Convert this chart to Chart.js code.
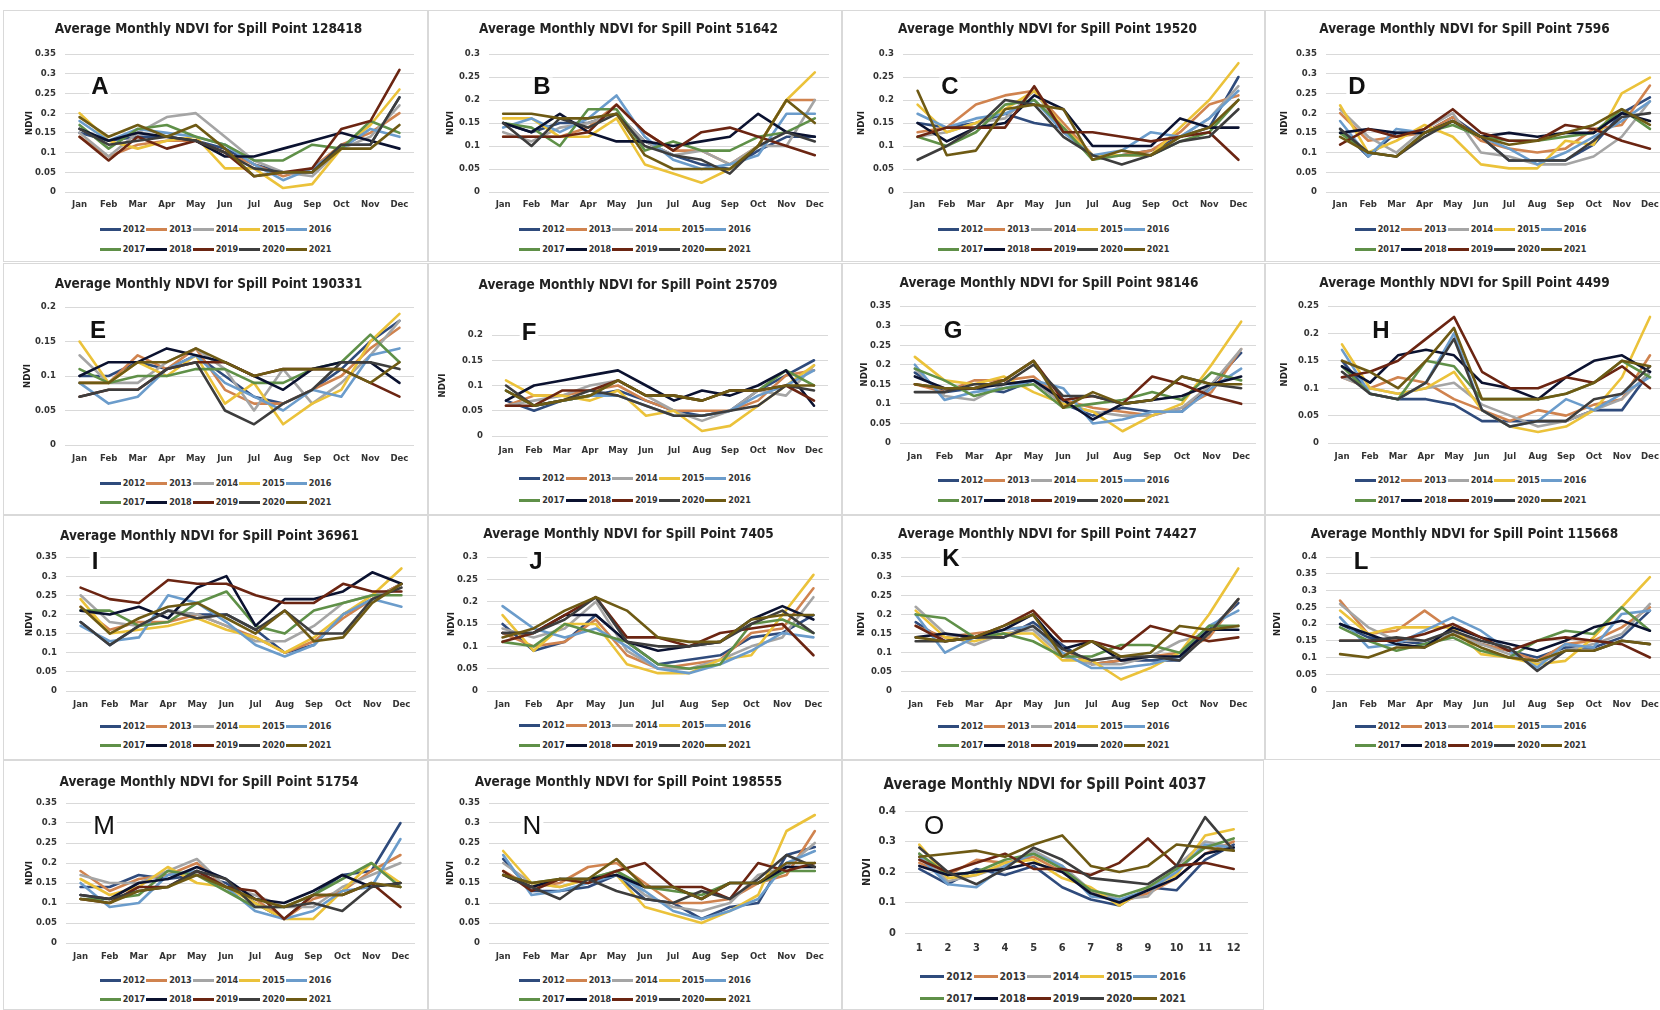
<!DOCTYPE html>
<html>
<head>
<meta charset="utf-8">
<script src="https://cdn.jsdelivr.net/npm/chart.js@4.4.1/dist/chart.umd.min.js"></script>
<style>
  html, body { margin: 0; padding: 0; background: #fff; width: 1660px; height: 1010px; overflow: hidden; position: relative; }
  .frame { position: absolute; border: 1px solid #d9d9d9; box-sizing: border-box; }
  .chartbox { position: absolute; }
  .legend { position: absolute; display: grid; grid-template-columns: repeat(5, auto); justify-content: center; column-gap: 1px; font-weight: bold; color: #333; }
  .legend .item { display: flex; align-items: center; white-space: nowrap; }
  .legend .swatch { display: inline-block; height: 3px; margin-right: 2px; }
</style>
</head>
<body>
<script>
const FONT = "'Liberation Sans Narrow', 'DejaVu Sans Condensed', 'Liberation Sans', sans-serif";

const years = ['2012', '2013', '2014', '2015', '2016', '2017', '2018', '2019', '2020', '2021'];
const months = ['Jan', 'Feb', 'Mar', 'Apr', 'May', 'Jun', 'Jul', 'Aug', 'Sep', 'Oct', 'Nov', 'Dec'];
const monthsJ = ['Jan', 'Feb', 'Apr', 'May', 'Jun', 'Jul', 'Aug', 'Sep', 'Oct', 'Nov', 'Dec'];
const monthNums = ['1', '2', '3', '4', '5', '6', '7', '8', '9', '10', '11', '12'];
const spillPoints = ['128418', '51642', '19520', '7596', '190331', '25709', '98146', '4499',
  '36961', '7405', '74427', '115668', '51754', '198555', '4037'];
const panelLetters = ['A', 'B', 'C', 'D', 'E', 'F', 'G', 'H', 'I', 'J', 'K', 'L', 'M', 'N', 'O'];
const yMax = [0.35, 0.3, 0.3, 0.35, 0.2, 0.2, 0.35, 0.25, 0.35, 0.3, 0.35, 0.4, 0.35, 0.35, 0.4];
const yStep = [0.05, 0.05, 0.05, 0.05, 0.05, 0.05, 0.05, 0.05, 0.05, 0.05, 0.05, 0.05, 0.05, 0.05, 0.1];

// rows are 2012 ... 2021
const ndviA = [
  [0.15, 0.13, 0.14, 0.14, 0.13, 0.11, 0.07, 0.05, 0.05, 0.12, 0.12, 0.24],
  [0.14, 0.09, 0.12, 0.13, 0.13, 0.10, 0.07, 0.04, 0.06, 0.12, 0.15, 0.20],
  [0.15, 0.09, 0.15, 0.19, 0.20, 0.14, 0.08, 0.05, 0.04, 0.11, 0.14, 0.22],
  [0.20, 0.13, 0.11, 0.13, 0.14, 0.06, 0.06, 0.01, 0.02, 0.11, 0.17, 0.26],
  [0.18, 0.13, 0.16, 0.15, 0.14, 0.12, 0.07, 0.03, 0.06, 0.11, 0.16, 0.14],
  [0.17, 0.11, 0.16, 0.17, 0.14, 0.12, 0.08, 0.08, 0.12, 0.11, 0.18, 0.15],
  [0.16, 0.13, 0.15, 0.14, 0.13, 0.09, 0.09, 0.11, 0.13, 0.15, 0.13, 0.11],
  [0.14, 0.08, 0.14, 0.11, 0.13, 0.10, 0.04, 0.05, 0.06, 0.16, 0.18, 0.31],
  [0.16, 0.12, 0.13, 0.14, 0.13, 0.10, 0.06, 0.05, 0.05, 0.12, 0.12, 0.24],
  [0.19, 0.14, 0.17, 0.14, 0.17, 0.11, 0.04, 0.05, 0.05, 0.11, 0.11, 0.17]
];
const ndviB = [
  [0.15, 0.13, 0.15, 0.15, 0.17, 0.11, 0.08, 0.06, 0.05, 0.09, 0.12, 0.12],
  [0.12, 0.12, 0.12, 0.14, 0.19, 0.13, 0.09, 0.09, 0.06, 0.10, 0.20, 0.20],
  [0.13, 0.11, 0.14, 0.15, 0.17, 0.11, 0.08, 0.09, 0.06, 0.10, 0.10, 0.20],
  [0.16, 0.16, 0.12, 0.12, 0.16, 0.06, 0.04, 0.02, 0.05, 0.10, 0.20, 0.26],
  [0.14, 0.16, 0.13, 0.16, 0.21, 0.12, 0.07, 0.05, 0.06, 0.08, 0.17, 0.17],
  [0.15, 0.14, 0.10, 0.18, 0.18, 0.09, 0.11, 0.09, 0.09, 0.12, 0.13, 0.16],
  [0.15, 0.13, 0.17, 0.13, 0.11, 0.11, 0.10, 0.11, 0.12, 0.17, 0.13, 0.12],
  [0.12, 0.12, 0.12, 0.13, 0.19, 0.13, 0.09, 0.13, 0.14, 0.12, 0.10, 0.08],
  [0.15, 0.10, 0.16, 0.14, 0.17, 0.10, 0.08, 0.07, 0.04, 0.10, 0.13, 0.11],
  [0.17, 0.17, 0.16, 0.16, 0.17, 0.08, 0.05, 0.05, 0.05, 0.10, 0.20, 0.15]
];
const ndviC = [
  [0.15, 0.14, 0.15, 0.17, 0.15, 0.14, 0.08, 0.08, 0.09, 0.12, 0.14, 0.25],
  [0.13, 0.14, 0.19, 0.21, 0.22, 0.15, 0.08, 0.08, 0.09, 0.13, 0.19, 0.21],
  [0.12, 0.13, 0.15, 0.16, 0.22, 0.13, 0.08, 0.08, 0.08, 0.12, 0.16, 0.23],
  [0.19, 0.13, 0.15, 0.18, 0.22, 0.14, 0.08, 0.08, 0.08, 0.14, 0.20, 0.28],
  [0.17, 0.14, 0.16, 0.17, 0.20, 0.13, 0.08, 0.09, 0.13, 0.12, 0.16, 0.22],
  [0.12, 0.10, 0.13, 0.19, 0.20, 0.14, 0.07, 0.08, 0.08, 0.11, 0.13, 0.20],
  [0.15, 0.11, 0.14, 0.15, 0.21, 0.18, 0.10, 0.10, 0.10, 0.16, 0.14, 0.14],
  [0.12, 0.14, 0.14, 0.14, 0.23, 0.13, 0.13, 0.12, 0.11, 0.12, 0.13, 0.07],
  [0.07, 0.10, 0.14, 0.20, 0.19, 0.12, 0.08, 0.06, 0.08, 0.11, 0.12, 0.18],
  [0.22, 0.08, 0.09, 0.18, 0.19, 0.18, 0.07, 0.09, 0.08, 0.12, 0.14, 0.20]
];
const ndviD = [
  [0.16, 0.09, 0.15, 0.15, 0.19, 0.14, 0.08, 0.08, 0.08, 0.12, 0.20, 0.24],
  [0.20, 0.13, 0.14, 0.15, 0.19, 0.13, 0.11, 0.10, 0.11, 0.16, 0.17, 0.27],
  [0.21, 0.14, 0.10, 0.16, 0.20, 0.10, 0.09, 0.07, 0.07, 0.09, 0.14, 0.23],
  [0.22, 0.10, 0.13, 0.17, 0.14, 0.07, 0.06, 0.06, 0.13, 0.12, 0.25, 0.29],
  [0.18, 0.09, 0.16, 0.15, 0.18, 0.14, 0.11, 0.07, 0.10, 0.14, 0.18, 0.23],
  [0.15, 0.10, 0.09, 0.15, 0.17, 0.14, 0.13, 0.13, 0.14, 0.15, 0.21, 0.16],
  [0.15, 0.16, 0.15, 0.15, 0.18, 0.14, 0.15, 0.14, 0.15, 0.15, 0.20, 0.18],
  [0.12, 0.16, 0.14, 0.16, 0.21, 0.15, 0.13, 0.13, 0.17, 0.16, 0.13, 0.11],
  [0.16, 0.10, 0.09, 0.14, 0.18, 0.14, 0.08, 0.08, 0.08, 0.13, 0.19, 0.20],
  [0.14, 0.10, 0.09, 0.15, 0.18, 0.14, 0.12, 0.13, 0.15, 0.17, 0.21, 0.17]
];
const ndviE = [
  [0.10, 0.10, 0.12, 0.11, 0.13, 0.10, 0.07, 0.06, 0.08, 0.11, 0.15, 0.18],
  [0.09, 0.09, 0.13, 0.11, 0.14, 0.08, 0.06, 0.06, 0.08, 0.10, 0.14, 0.17],
  [0.13, 0.09, 0.09, 0.12, 0.14, 0.11, 0.05, 0.11, 0.06, 0.09, 0.13, 0.18],
  [0.15, 0.09, 0.12, 0.10, 0.13, 0.06, 0.09, 0.03, 0.06, 0.08, 0.15, 0.19],
  [0.09, 0.06, 0.07, 0.11, 0.13, 0.09, 0.07, 0.05, 0.08, 0.07, 0.13, 0.14],
  [0.11, 0.09, 0.10, 0.10, 0.11, 0.11, 0.09, 0.09, 0.11, 0.12, 0.16, 0.12],
  [0.10, 0.12, 0.12, 0.14, 0.13, 0.12, 0.10, 0.08, 0.11, 0.12, 0.12, 0.09],
  [0.07, 0.08, 0.08, 0.11, 0.12, 0.12, 0.10, 0.11, 0.11, 0.11, 0.09, 0.07],
  [0.07, 0.08, 0.08, 0.11, 0.12, 0.05, 0.03, 0.06, 0.08, 0.12, 0.12, 0.11],
  [0.09, 0.09, 0.12, 0.12, 0.14, 0.12, 0.10, 0.11, 0.11, 0.11, 0.09, 0.12]
];
const ndviF = [
  [0.07, 0.05, 0.07, 0.08, 0.09, 0.07, 0.05, 0.04, 0.05, 0.09, 0.12, 0.15],
  [0.06, 0.08, 0.08, 0.09, 0.10, 0.07, 0.05, 0.05, 0.05, 0.07, 0.12, 0.13],
  [0.06, 0.07, 0.08, 0.10, 0.11, 0.08, 0.05, 0.03, 0.05, 0.09, 0.08, 0.14],
  [0.11, 0.08, 0.08, 0.07, 0.09, 0.04, 0.05, 0.01, 0.02, 0.06, 0.10, 0.14],
  [0.09, 0.06, 0.07, 0.08, 0.08, 0.06, 0.04, 0.04, 0.05, 0.08, 0.10, 0.13],
  [0.09, 0.06, 0.07, 0.08, 0.11, 0.08, 0.08, 0.07, 0.09, 0.09, 0.13, 0.10],
  [0.07, 0.10, 0.11, 0.12, 0.13, 0.10, 0.07, 0.09, 0.08, 0.10, 0.13, 0.06],
  [0.06, 0.06, 0.09, 0.09, 0.11, 0.08, 0.08, 0.07, 0.09, 0.09, 0.10, 0.07],
  [0.10, 0.06, 0.07, 0.09, 0.08, 0.06, 0.04, 0.04, 0.05, 0.06, 0.10, 0.09],
  [0.09, 0.06, 0.07, 0.08, 0.11, 0.08, 0.08, 0.07, 0.09, 0.09, 0.10, 0.10]
];
const ndviG = [
  [0.18, 0.13, 0.14, 0.13, 0.16, 0.10, 0.07, 0.09, 0.08, 0.08, 0.15, 0.23],
  [0.15, 0.13, 0.16, 0.16, 0.17, 0.11, 0.09, 0.08, 0.07, 0.09, 0.13, 0.24],
  [0.19, 0.12, 0.11, 0.15, 0.16, 0.10, 0.08, 0.07, 0.07, 0.09, 0.15, 0.24],
  [0.22, 0.16, 0.15, 0.17, 0.13, 0.10, 0.08, 0.03, 0.07, 0.10, 0.20, 0.31],
  [0.20, 0.11, 0.13, 0.14, 0.16, 0.14, 0.05, 0.06, 0.08, 0.08, 0.14, 0.19],
  [0.19, 0.16, 0.12, 0.14, 0.15, 0.09, 0.10, 0.11, 0.13, 0.11, 0.18, 0.16],
  [0.17, 0.14, 0.14, 0.15, 0.16, 0.11, 0.06, 0.10, 0.11, 0.12, 0.15, 0.17],
  [0.15, 0.14, 0.14, 0.16, 0.21, 0.11, 0.12, 0.10, 0.17, 0.15, 0.12, 0.10],
  [0.13, 0.13, 0.15, 0.15, 0.20, 0.12, 0.12, 0.10, 0.11, 0.17, 0.15, 0.14],
  [0.15, 0.14, 0.14, 0.16, 0.21, 0.09, 0.13, 0.10, 0.11, 0.17, 0.15, 0.15]
];
const ndviH = [
  [0.15, 0.09, 0.08, 0.08, 0.07, 0.04, 0.04, 0.04, 0.04, 0.06, 0.06, 0.13],
  [0.12, 0.10, 0.12, 0.11, 0.08, 0.06, 0.04, 0.06, 0.05, 0.07, 0.08, 0.16],
  [0.12, 0.10, 0.09, 0.10, 0.11, 0.07, 0.05, 0.03, 0.04, 0.06, 0.08, 0.13],
  [0.18, 0.10, 0.09, 0.10, 0.13, 0.06, 0.03, 0.02, 0.03, 0.06, 0.12, 0.23],
  [0.17, 0.09, 0.08, 0.11, 0.20, 0.06, 0.03, 0.04, 0.08, 0.06, 0.09, 0.12],
  [0.14, 0.09, 0.08, 0.15, 0.14, 0.08, 0.08, 0.08, 0.09, 0.11, 0.15, 0.12],
  [0.14, 0.11, 0.16, 0.17, 0.16, 0.11, 0.10, 0.08, 0.12, 0.15, 0.16, 0.13],
  [0.12, 0.13, 0.15, 0.19, 0.23, 0.13, 0.10, 0.10, 0.12, 0.11, 0.14, 0.10],
  [0.13, 0.09, 0.08, 0.11, 0.19, 0.06, 0.03, 0.04, 0.04, 0.08, 0.09, 0.14],
  [0.15, 0.13, 0.10, 0.15, 0.21, 0.08, 0.08, 0.08, 0.09, 0.11, 0.15, 0.14]
];
const ndviI = [
  [0.18, 0.12, 0.17, 0.21, 0.20, 0.20, 0.16, 0.10, 0.12, 0.20, 0.24, 0.28],
  [0.22, 0.16, 0.18, 0.18, 0.20, 0.17, 0.14, 0.10, 0.13, 0.19, 0.24, 0.28],
  [0.25, 0.18, 0.17, 0.21, 0.20, 0.17, 0.13, 0.13, 0.17, 0.23, 0.25, 0.27],
  [0.24, 0.15, 0.16, 0.17, 0.19, 0.16, 0.14, 0.10, 0.14, 0.20, 0.25, 0.32],
  [0.17, 0.13, 0.14, 0.25, 0.23, 0.18, 0.12, 0.09, 0.12, 0.20, 0.24, 0.22],
  [0.21, 0.21, 0.17, 0.18, 0.23, 0.26, 0.17, 0.15, 0.21, 0.23, 0.25, 0.25],
  [0.21, 0.20, 0.22, 0.19, 0.27, 0.30, 0.17, 0.24, 0.24, 0.26, 0.31, 0.28],
  [0.27, 0.24, 0.23, 0.29, 0.28, 0.28, 0.25, 0.23, 0.23, 0.28, 0.26, 0.26],
  [0.18, 0.12, 0.17, 0.21, 0.19, 0.20, 0.16, 0.21, 0.15, 0.15, 0.24, 0.27],
  [0.22, 0.15, 0.19, 0.22, 0.23, 0.19, 0.15, 0.21, 0.13, 0.14, 0.23, 0.28]
];
// J has no March column
const ndviJ = [
  [0.15, 0.09, 0.11, 0.17, 0.11, 0.06, 0.07, 0.08, 0.12, 0.13, 0.17],
  [0.13, 0.10, 0.11, 0.16, 0.08, 0.05, 0.06, 0.07, 0.13, 0.14, 0.23],
  [0.14, 0.12, 0.14, 0.20, 0.09, 0.05, 0.05, 0.07, 0.10, 0.12, 0.21],
  [0.17, 0.09, 0.15, 0.15, 0.06, 0.04, 0.04, 0.07, 0.08, 0.17, 0.26],
  [0.19, 0.14, 0.12, 0.14, 0.10, 0.05, 0.04, 0.06, 0.09, 0.13, 0.12],
  [0.11, 0.10, 0.15, 0.13, 0.11, 0.06, 0.05, 0.06, 0.15, 0.16, 0.13],
  [0.13, 0.13, 0.17, 0.17, 0.11, 0.09, 0.10, 0.11, 0.16, 0.19, 0.16],
  [0.11, 0.13, 0.17, 0.21, 0.12, 0.12, 0.10, 0.13, 0.14, 0.15, 0.08],
  [0.13, 0.13, 0.16, 0.21, 0.11, 0.10, 0.10, 0.11, 0.15, 0.18, 0.13],
  [0.12, 0.14, 0.18, 0.21, 0.18, 0.12, 0.11, 0.11, 0.16, 0.17, 0.17]
];
const ndviK = [
  [0.18, 0.13, 0.14, 0.14, 0.18, 0.12, 0.07, 0.08, 0.08, 0.08, 0.16, 0.23],
  [0.17, 0.14, 0.15, 0.16, 0.17, 0.11, 0.07, 0.08, 0.09, 0.10, 0.14, 0.24],
  [0.22, 0.15, 0.12, 0.15, 0.16, 0.09, 0.07, 0.07, 0.09, 0.13, 0.15, 0.24],
  [0.21, 0.14, 0.13, 0.15, 0.15, 0.08, 0.08, 0.03, 0.06, 0.10, 0.20, 0.32],
  [0.20, 0.10, 0.14, 0.16, 0.17, 0.10, 0.06, 0.06, 0.07, 0.09, 0.17, 0.21],
  [0.20, 0.19, 0.14, 0.15, 0.13, 0.09, 0.09, 0.12, 0.12, 0.10, 0.17, 0.17],
  [0.14, 0.15, 0.14, 0.16, 0.20, 0.11, 0.13, 0.08, 0.09, 0.09, 0.16, 0.16],
  [0.17, 0.13, 0.14, 0.17, 0.21, 0.13, 0.13, 0.11, 0.17, 0.15, 0.13, 0.14],
  [0.13, 0.13, 0.14, 0.14, 0.17, 0.11, 0.08, 0.09, 0.09, 0.08, 0.15, 0.24],
  [0.14, 0.13, 0.14, 0.17, 0.20, 0.09, 0.13, 0.09, 0.10, 0.17, 0.16, 0.17]
];
const ndviL = [
  [0.20, 0.16, 0.15, 0.14, 0.18, 0.14, 0.12, 0.10, 0.13, 0.13, 0.16, 0.24],
  [0.27, 0.17, 0.18, 0.24, 0.18, 0.14, 0.12, 0.09, 0.14, 0.15, 0.19, 0.25],
  [0.26, 0.19, 0.15, 0.15, 0.17, 0.14, 0.11, 0.08, 0.12, 0.14, 0.17, 0.26],
  [0.24, 0.17, 0.19, 0.19, 0.19, 0.11, 0.10, 0.08, 0.09, 0.16, 0.25, 0.34],
  [0.22, 0.13, 0.14, 0.18, 0.22, 0.18, 0.12, 0.07, 0.14, 0.13, 0.23, 0.24],
  [0.19, 0.15, 0.12, 0.14, 0.16, 0.12, 0.10, 0.15, 0.18, 0.17, 0.25, 0.18],
  [0.20, 0.17, 0.14, 0.13, 0.19, 0.16, 0.14, 0.12, 0.15, 0.19, 0.21, 0.18],
  [0.15, 0.15, 0.15, 0.17, 0.20, 0.16, 0.12, 0.15, 0.16, 0.15, 0.14, 0.10],
  [0.15, 0.15, 0.16, 0.15, 0.18, 0.15, 0.13, 0.06, 0.12, 0.12, 0.15, 0.14],
  [0.11, 0.10, 0.13, 0.13, 0.17, 0.13, 0.10, 0.09, 0.12, 0.12, 0.15, 0.14]
];
const ndviM = [
  [0.14, 0.14, 0.17, 0.16, 0.17, 0.15, 0.10, 0.06, 0.12, 0.17, 0.18, 0.30],
  [0.18, 0.13, 0.16, 0.17, 0.20, 0.14, 0.11, 0.06, 0.11, 0.13, 0.18, 0.22],
  [0.17, 0.15, 0.15, 0.18, 0.21, 0.14, 0.12, 0.09, 0.09, 0.14, 0.17, 0.20],
  [0.16, 0.12, 0.14, 0.19, 0.15, 0.14, 0.10, 0.06, 0.06, 0.13, 0.20, 0.15],
  [0.15, 0.09, 0.10, 0.17, 0.18, 0.14, 0.08, 0.06, 0.08, 0.13, 0.14, 0.26],
  [0.11, 0.11, 0.12, 0.18, 0.17, 0.13, 0.09, 0.09, 0.12, 0.16, 0.20, 0.14],
  [0.12, 0.11, 0.15, 0.16, 0.19, 0.16, 0.11, 0.10, 0.13, 0.17, 0.14, 0.15],
  [0.11, 0.10, 0.14, 0.14, 0.18, 0.14, 0.13, 0.06, 0.12, 0.12, 0.15, 0.09],
  [0.12, 0.11, 0.13, 0.14, 0.18, 0.16, 0.09, 0.09, 0.10, 0.08, 0.14, 0.15],
  [0.11, 0.10, 0.13, 0.14, 0.17, 0.14, 0.11, 0.09, 0.12, 0.12, 0.15, 0.14]
];
const ndviN = [
  [0.21, 0.13, 0.13, 0.14, 0.17, 0.11, 0.10, 0.06, 0.09, 0.10, 0.22, 0.24],
  [0.18, 0.14, 0.15, 0.19, 0.20, 0.15, 0.10, 0.10, 0.11, 0.15, 0.17, 0.28],
  [0.20, 0.15, 0.14, 0.16, 0.18, 0.12, 0.09, 0.08, 0.10, 0.17, 0.19, 0.25],
  [0.23, 0.15, 0.14, 0.16, 0.17, 0.09, 0.07, 0.05, 0.08, 0.12, 0.28, 0.32],
  [0.22, 0.12, 0.13, 0.15, 0.17, 0.13, 0.08, 0.06, 0.08, 0.11, 0.20, 0.23],
  [0.17, 0.15, 0.16, 0.16, 0.18, 0.14, 0.13, 0.12, 0.15, 0.15, 0.18, 0.18],
  [0.17, 0.14, 0.16, 0.16, 0.17, 0.14, 0.14, 0.11, 0.15, 0.15, 0.19, 0.19],
  [0.18, 0.13, 0.16, 0.15, 0.18, 0.20, 0.14, 0.14, 0.11, 0.20, 0.18, 0.20],
  [0.17, 0.14, 0.11, 0.16, 0.13, 0.11, 0.10, 0.13, 0.11, 0.16, 0.22, 0.19],
  [0.17, 0.15, 0.16, 0.16, 0.21, 0.14, 0.14, 0.11, 0.15, 0.15, 0.20, 0.20]
];
const ndviO = [
  [0.21, 0.16, 0.21, 0.19, 0.22, 0.15, 0.11, 0.09, 0.15, 0.14, 0.24, 0.29],
  [0.23, 0.19, 0.24, 0.23, 0.25, 0.20, 0.14, 0.10, 0.13, 0.18, 0.26, 0.30],
  [0.26, 0.17, 0.19, 0.22, 0.27, 0.22, 0.14, 0.11, 0.12, 0.22, 0.30, 0.28],
  [0.29, 0.18, 0.19, 0.23, 0.24, 0.18, 0.15, 0.09, 0.15, 0.19, 0.32, 0.34],
  [0.25, 0.16, 0.15, 0.22, 0.26, 0.22, 0.12, 0.11, 0.14, 0.20, 0.29, 0.28],
  [0.26, 0.19, 0.20, 0.24, 0.26, 0.21, 0.14, 0.12, 0.15, 0.21, 0.28, 0.31],
  [0.22, 0.19, 0.20, 0.21, 0.23, 0.20, 0.13, 0.10, 0.14, 0.18, 0.26, 0.28],
  [0.24, 0.20, 0.23, 0.26, 0.21, 0.21, 0.19, 0.23, 0.31, 0.22, 0.23, 0.21],
  [0.28, 0.20, 0.16, 0.21, 0.28, 0.24, 0.18, 0.17, 0.16, 0.22, 0.38, 0.27],
  [0.25, 0.26, 0.27, 0.25, 0.29, 0.32, 0.22, 0.20, 0.22, 0.29, 0.28, 0.27]
];

const panelData = [ndviA, ndviB, ndviC, ndviD, ndviE, ndviF, ndviG, ndviH,
  ndviI, ndviJ, ndviK, ndviL, ndviM, ndviN, ndviO];
const panelLabels = [months, months, months, months, months, months, months, months,
  months, monthsJ, months, months, months, months, monthNums];

// styling and layout (page pixels)
const seriesColors = ['#2F4B7C', '#D0834F', '#A5A5A5', '#EBC23A', '#6B9CCB',
  '#5F9048', '#0B1230', '#6B2512', '#3D3D3D', '#6E5A14'];

const frames = [ // left, top, width, height
  [3, 10, 425, 252], [428, 10, 414, 252], [842, 10, 423, 252], [1265, 10, 411, 252],
  [3, 263, 425, 252], [428, 263, 414, 252], [842, 263, 423, 252], [1265, 263, 411, 252],
  [3, 515, 425, 245], [428, 515, 414, 245], [842, 515, 423, 245], [1265, 515, 411, 245],
  [3, 760, 425, 250], [428, 760, 414, 250], [842, 760, 422, 250]
];
const plotAreas = [ // left, right, top, bottom
  [65, 414, 54, 192], [489, 829, 54, 192], [903, 1253, 54, 192], [1326, 1664, 54, 192],
  [65, 414, 307, 445], [492, 828, 335, 436], [900, 1256, 306, 443], [1328, 1664, 306, 443],
  [66, 416, 557, 691], [487, 829, 557, 691], [901, 1253, 557, 691], [1326, 1664, 557, 691],
  [66, 415, 803, 943], [489, 829, 803, 943], [905, 1248, 811, 933]
];
const titleY = [29, 29, 29, 29, 284, 285, 283, 283, 536, 534, 534, 534, 782, 782, 785];
const xLabelY = [205, 205, 205, 205, 459, 451, 457, 457, 705, 705, 705, 705, 957, 957, 948];
const legendRows = [
  [229, 249], [229, 249], [229, 249], [229, 249],
  [483, 502], [478, 500], [480, 500], [480, 500],
  [726, 745], [725, 745], [726, 745], [726, 745],
  [980, 999], [980, 999], [976, 998]
];
const ndviX = [30, 451, 862, 1285, 28, 443, 865, 1285, 30, 452, 862, 1278, 30, 451, 867];
const letterXY = [
  [100, 87], [542, 87], [950, 87], [1357, 87],
  [98, 331], [529, 333], [953, 331], [1381, 331],
  [95, 562], [536, 562], [951, 559], [1361, 562],
  [104, 827], [532, 827], [934, 827]
];

const letterPlugin = {
  id: 'panelLetter',
  beforeDatasetsDraw(chart, args, opts) {
    if (!opts.text) return;
    const ctx = chart.ctx;
    ctx.save();
    ctx.font = opts.font;
    const w = ctx.measureText(opts.text).width;
    ctx.fillStyle = '#fff';
    ctx.fillRect(opts.x - w / 2 - 2, opts.y - opts.size * 0.4, w + 4, opts.size * 0.8);
    ctx.fillStyle = '#111';
    ctx.textAlign = 'center';
    ctx.textBaseline = 'middle';
    ctx.fillText(opts.text, opts.x, opts.y);
    ctx.restore();
  }
};

function makePanel(i) {
  const [fl, ft, fw, fh] = frames[i];
  const [pl, pr, pt, pb] = plotAreas[i];
  const big = i === 14;
  const titleSize = big ? 15 : 13.5;
  const tickSize = big ? 11 : 9.5;
  const legendSize = big ? 10.5 : 9;

  const frame = document.createElement('div');
  frame.className = 'frame';
  Object.assign(frame.style, { left: fl + 'px', top: ft + 'px', width: fw + 'px', height: fh + 'px' });
  document.body.appendChild(frame);

  const canvasH = xLabelY[i] + 10 - ft;
  const box = document.createElement('div');
  box.className = 'chartbox';
  Object.assign(box.style, { left: fl + 'px', top: ft + 'px', width: fw + 'px', height: canvasH + 'px' });
  const canvas = document.createElement('canvas');
  canvas.width = fw;
  canvas.height = canvasH;
  box.appendChild(canvas);
  document.body.appendChild(box);

  const titleTop = titleY[i] - ft - titleSize * 0.6;
  const titleBottom = (pt - ft) - titleTop - titleSize * 1.2;
  const yAxisW = pl - fl;
  const xAxisH = canvasH - (pb - ft);
  const tickLine = tickSize * 1.2;
  const letterSize = i >= 12 ? 26 : 24;

  const chart = new Chart(canvas, {
    type: 'line',
    data: {
      labels: panelLabels[i],
      datasets: years.map((y, k) => ({
        label: y,
        data: panelData[i][k],
        borderColor: seriesColors[k],
        backgroundColor: seriesColors[k],
        borderWidth: 2.6,
        pointRadius: 0,
        tension: 0,
        borderJoinStyle: 'round',
        borderCapStyle: 'round',
        order: years.length - k
      }))
    },
    options: {
      responsive: false,
      animation: false,
      events: [],
      layout: { padding: { left: 0, right: fl + fw - pr, top: 0, bottom: 0 } },
      plugins: {
        legend: { display: false },
        tooltip: { enabled: false },
        title: {
          display: true,
          text: 'Average Monthly NDVI for Spill Point ' + spillPoints[i],
          color: '#222',
          font: { family: FONT, size: titleSize, weight: 'bold' },
          padding: { top: titleTop, bottom: titleBottom }
        },
        panelLetter: {
          text: panelLetters[i],
          x: letterXY[i][0] - fl,
          y: letterXY[i][1] - ft,
          size: letterSize,
          font: (i >= 12 ? '' : 'bold ') + letterSize + "px 'Liberation Sans', Arial, sans-serif"
        }
      },
      scales: {
        x: {
          offset: true,
          grid: { display: false, drawTicks: false },
          border: { display: false },
          ticks: {
            color: '#333',
            autoSkip: false,
            maxRotation: 0,
            padding: xLabelY[i] - pb - tickLine / 2,
            font: { family: FONT, size: tickSize, weight: 'bold' }
          },
          afterFit: (s) => { s.height = xAxisH; }
        },
        y: {
          min: 0,
          max: yMax[i],
          grid: { color: '#d9d9d9', lineWidth: 1, drawTicks: false },
          border: { display: false },
          ticks: {
            stepSize: yStep[i],
            color: '#333',
            padding: 9,
            font: { family: FONT, size: tickSize, weight: 'bold' },
            callback: (v) => String(+(+v).toFixed(2))
          },
          title: {
            display: true,
            text: 'NDVI',
            color: '#222',
            font: { family: FONT, size: tickSize, weight: 'bold' },
            padding: { top: ndviX[i] - fl - tickLine / 2, bottom: 0 }
          },
          afterFit: (s) => { s.width = yAxisW; }
        }
      }
    },
    plugins: [letterPlugin]
  });

  // legend laid out as in the source: two rows of five
  const [r1, r2] = legendRows[i];
  const rowH = Math.round(legendSize * 1.2);
  const legend = document.createElement('div');
  legend.className = 'legend';
  Object.assign(legend.style, {
    left: fl + 'px', width: fw + 'px',
    top: (r1 - rowH / 2) + 'px',
    rowGap: (r2 - r1 - rowH) + 'px',
    font: 'bold ' + legendSize + 'px ' + FONT,
    lineHeight: rowH + 'px'
  });
  chart.data.datasets.forEach((ds) => {
    const item = document.createElement('span');
    item.className = 'item';
    const sw = document.createElement('span');
    sw.className = 'swatch';
    sw.style.width = (big ? 24 : 21) + 'px';
    sw.style.background = ds.borderColor;
    item.appendChild(sw);
    item.appendChild(document.createTextNode(ds.label));
    legend.appendChild(item);
  });
  document.body.appendChild(legend);
}

for (let i = 0; i < panelData.length; i++) makePanel(i);
</script>
</body>
</html>
